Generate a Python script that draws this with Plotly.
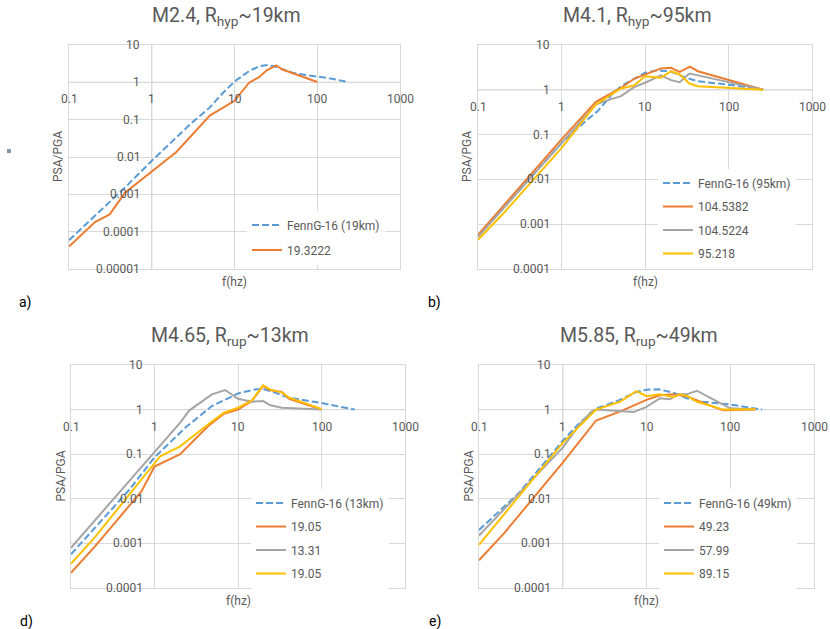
import math
import plotly.graph_objects as go

W, H = 830, 629

# ---------------- data ----------------
X_TICK_VALS = [0.1, 1, 10, 100, 1000]
X_TICK_TEXT = ["0.1", "1", "10", "100", "1000"]
Y_TICK_VALS_A = [10, 1, 0.1, 0.01, 0.001, 0.0001, 0.00001]
Y_TICK_TEXT_A = ["10", "1", "0.1", "0.01", "0.001", "0.0001", "0.00001"]
Y_TICK_VALS_B = [10, 1, 0.1, 0.01, 0.001, 0.0001]
Y_TICK_TEXT_B = ["10", "1", "0.1", "0.01", "0.001", "0.0001"]

# panel a) M2.4, Rhyp~19km
A_FENN_F = [0.1, 0.2, 0.3, 0.5, 1, 2, 3, 5, 7, 10, 15, 20, 25, 30, 40, 50, 70, 100, 150, 230]
A_FENN_Y = [5.9e-5, 2.5e-4, 5.9e-4, 1.7e-3, 7.9e-3, 0.034, 0.08, 0.21, 0.48, 1.05, 2.0, 2.7, 2.9, 2.7, 2.2, 1.8, 1.6, 1.42, 1.25, 1.03]
A_OBS1_F = [0.1, 0.206, 0.31, 0.475, 2, 5.06, 7.3, 10, 15, 20, 24.5, 32, 38, 100]
A_OBS1_Y = [4.0e-5, 1.8e-4, 2.9e-4, 1.1e-3, 0.0139, 0.13, 0.21, 0.32, 0.98, 1.4, 2.1, 2.85, 2.2, 1.02]

# panel b) M4.1, Rhyp~95km
B_FENN_F = [0.1, 0.2, 0.5, 1, 2, 2.7, 4, 5.15, 7.4, 10, 14, 20, 30, 43, 100, 260]
B_FENN_Y = [5.5e-4, 2.3e-3, 0.015, 0.065, 0.21, 0.33, 0.78, 1.2, 1.76, 2.4, 2.7, 2.6, 1.9, 1.55, 1.3, 1.02]
B_OBS1_F = [0.1, 0.2, 0.5, 1, 2.58, 5.15, 7.4, 10, 15.5, 20.5, 26, 34.6, 43, 260]
B_OBS1_Y = [5.8e-4, 2.5e-3, 0.018, 0.078, 0.54, 1.1, 1.76, 2.2, 3.0, 3.1, 2.5, 3.3, 2.6, 1.0]
B_OBS2_F = [0.1, 0.2, 0.5, 1, 2.58, 3.3, 5.15, 7.4, 10, 15.5, 20.5, 26, 34, 43, 260]
B_OBS2_Y = [5.2e-4, 2.2e-3, 0.015, 0.065, 0.47, 0.56, 0.72, 1.15, 1.44, 2.1, 1.64, 1.48, 2.3, 2.1, 1.0]
B_OBS3_F = [0.1, 0.205, 1, 2.58, 5.15, 7.4, 10, 15.5, 20.5, 26, 34, 43, 260]
B_OBS3_Y = [4.5e-4, 1.8e-3, 0.05, 0.47, 1.07, 1.25, 2.0, 1.86, 2.6, 2.2, 1.38, 1.2, 1.0]

# panel d) M4.65, Rrup~13km
D_FENN_F = [0.1, 0.5, 1, 2.33, 4.86, 7.7, 10, 16, 20, 27.7, 40, 100, 250]
D_FENN_Y = [5.7e-4, 0.016, 0.085, 0.39, 1.2, 1.86, 2.3, 2.84, 2.9, 2.4, 1.86, 1.4, 1.0]
D_OBS1_F = [0.1, 0.195, 0.7, 1, 2.03, 4.4, 6.8, 10, 14.6, 20, 24.5, 33.5, 41, 100]
D_OBS1_Y = [2.2e-4, 8.7e-4, 0.0148, 0.053, 0.1, 0.43, 0.81, 1.0, 1.55, 3.4, 2.7, 2.5, 1.75, 1.0]
D_OBS2_F = [0.1, 1, 2.03, 2.6, 4.86, 7.0, 10, 14.6, 20, 24.5, 33.5, 100]
D_OBS2_Y = [8e-4, 0.107, 0.51, 0.95, 2.2, 2.75, 1.75, 1.5, 1.55, 1.25, 1.1, 1.0]
D_OBS3_F = [0.1, 0.195, 0.65, 1.17, 2.03, 4.4, 6.8, 10, 14.6, 20, 24.5, 33.5, 41, 100]
D_OBS3_Y = [3.5e-4, 1.4e-3, 0.023, 0.09, 0.15, 0.47, 0.85, 1.1, 1.6, 3.5, 2.8, 2.4, 1.85, 1.03]

# panel e) M5.85, Rrup~49km
E_FENN_F = [0.1, 0.3, 0.5, 1, 1.5, 2.5, 4.8, 7.6, 10, 14, 21, 30, 47, 100, 240]
E_FENN_Y = [2.0e-3, 0.0135, 0.042, 0.2, 0.45, 1.05, 1.65, 2.5, 2.8, 2.85, 2.4, 1.8, 1.5, 1.3, 1.0]
E_OBS1_F = [0.1, 0.2, 1, 1.2, 2.5, 4.8, 10, 14.5, 21, 30, 40, 63, 83, 200]
E_OBS1_Y = [4.2e-4, 1.7e-3, 0.065, 0.1, 0.57, 0.9, 1.65, 2.1, 2.2, 2.0, 1.6, 1.15, 0.97, 1.0]
E_OBS2_F = [0.1, 1, 1.6, 2.2, 2.5, 4.8, 7, 10, 14.5, 19, 24, 30, 40, 57, 100, 200]
E_OBS2_Y = [1.5e-3, 0.14, 0.47, 0.9, 1.0, 0.9, 0.88, 1.15, 1.8, 1.7, 2.2, 2.2, 2.65, 1.85, 1.07, 1.0]
E_OBS3_F = [0.1, 1, 2.5, 4.8, 7.6, 10, 14.5, 21, 25, 31, 40, 83, 200]
E_OBS3_Y = [9.3e-4, 0.18, 1.0, 1.5, 2.6, 2.0, 2.2, 1.9, 2.2, 2.0, 1.5, 1.0, 1.02]

# ---------------- styling ----------------
BLUE, ORANGE, GRAY, YELLOW = "#5B9BD5", "#ED7D31", "#A5A5A5", "#FFC000"
TXT = "#595959"
GRID = "#d9d9d9"
AXLINE = "#bfbfbf"
FONT = "Roboto"

panels = [
    dict(title="M2.4, R<sub>hyp</sub>~19km", label="a)", xr=[-1, 3], yr=[-5, 1],
         px=(69, 400), py=(45, 269), yt=(Y_TICK_VALS_A, Y_TICK_TEXT_A),
         leg=(247, 210.5), gap=6, lab_xy=(25, 302),
         series=[("FennG-16 (19km)", A_FENN_F, A_FENN_Y, BLUE, True),
                 ("19.3222", A_OBS1_F, A_OBS1_Y, ORANGE, False)]),
    dict(title="M4.1, R<sub>hyp</sub>~95km", label="b)", xr=[-1, 3], yr=[-4, 1],
         px=(478, 812), py=(45, 269), yt=(Y_TICK_VALS_B, Y_TICK_TEXT_B),
         leg=(658, 168.5), gap=4.5, lab_xy=(434, 302),
         series=[("FennG-16 (95km)", B_FENN_F, B_FENN_Y, BLUE, True),
                 ("104.5382", B_OBS1_F, B_OBS1_Y, ORANGE, False),
                 ("104.5224", B_OBS2_F, B_OBS2_Y, GRAY, False),
                 ("95.218", B_OBS3_F, B_OBS3_Y, YELLOW, False)]),
    dict(title="M4.65, R<sub>rup</sub>~13km", label="d)", xr=[-1, 3], yr=[-4, 1],
         px=(71, 405), py=(365, 588), yt=(Y_TICK_VALS_B, Y_TICK_TEXT_B),
         leg=(251, 488.5), gap=4.5, lab_xy=(26, 621),
         series=[("FennG-16 (13km)", D_FENN_F, D_FENN_Y, BLUE, True),
                 ("19.05", D_OBS1_F, D_OBS1_Y, ORANGE, False),
                 ("13.31", D_OBS2_F, D_OBS2_Y, GRAY, False),
                 ("19.05", D_OBS3_F, D_OBS3_Y, YELLOW, False)]),
    dict(title="M5.85, R<sub>rup</sub>~49km", label="e)", xr=[-1, 3], yr=[-4, 1],
         px=(479, 814), py=(365, 588), yt=(Y_TICK_VALS_B, Y_TICK_TEXT_B),
         leg=(659, 488.5), gap=4.5, lab_xy=(435, 621),
         series=[("FennG-16 (49km)", E_FENN_F, E_FENN_Y, BLUE, True),
                 ("49.23", E_OBS1_F, E_OBS1_Y, ORANGE, False),
                 ("57.99", E_OBS2_F, E_OBS2_Y, GRAY, False),
                 ("89.15", E_OBS3_F, E_OBS3_Y, YELLOW, False)]),
]


def frac(v, rng):
    return (math.log10(v) - rng[0]) / (rng[1] - rng[0])


fig = go.Figure()
layout = dict(width=W, height=H, margin=dict(l=0, r=0, t=0, b=0),
              paper_bgcolor="white", plot_bgcolor="white",
              font=dict(family=FONT, color=TXT, size=12),
              showlegend=True)
annotations = []
shapes = []

for i, p in enumerate(panels):
    n = i + 1
    xs = "" if n == 1 else str(n)
    xname, yname = "x" + xs, "y" + xs
    legname = "legend" + ("" if n == 1 else str(n))
    dom_x = [p["px"][0] / W, p["px"][1] / W]
    dom_y = [1 - p["py"][1] / H, 1 - p["py"][0] / H]
    common = dict(type="log", dtick=1, showgrid=True, gridcolor=GRID, gridwidth=1,
                  showticklabels=False, ticks="", showline=True, mirror=True,
                  linecolor=GRID, linewidth=1, fixedrange=True)
    layout["xaxis" + xs] = dict(common, range=p["xr"], domain=dom_x, anchor=yname)
    layout["yaxis" + xs] = dict(common, range=p["yr"], domain=dom_y, anchor=xname)
    layout[legname] = dict(x=p["leg"][0] / W, y=1 - p["leg"][1] / H, xanchor="left", yanchor="top",
                           bgcolor="white", borderwidth=0, traceorder="grouped",
                           tracegroupgap=p["gap"], font=dict(family=FONT, size=12, color=TXT))

    for k, (name, fx, fy, col, dashed) in enumerate(p["series"]):
        fig.add_trace(go.Scatter(
            x=fx, y=fy, mode="lines", name=name, xaxis=xname, yaxis=yname,
            legend=legname, legendgroup=f"p{n}s{k}",
            line=dict(color=col, width=2, dash="7px,3px" if dashed else "solid"),
            hoverinfo="skip"))

    xd, yd = xname + " domain", yname + " domain"
    fx1 = frac(1, p["xr"])
    fy1 = frac(1, p["yr"])
    # axis lines crossing at 1
    shapes.append(dict(type="line", xref=xd, yref=yd, x0=0, x1=1, y0=fy1, y1=fy1,
                       line=dict(color=AXLINE, width=1), layer="below"))
    shapes.append(dict(type="line", xref=xd, yref=yd, x0=fx1, x1=fx1, y0=0, y1=1,
                       line=dict(color=AXLINE, width=1), layer="below"))
    # x tick labels along y=1
    for v, t in zip(X_TICK_VALS, X_TICK_TEXT):
        annotations.append(dict(text=t, xref=xd, yref=yd, x=frac(v, p["xr"]), y=fy1,
                                xanchor="center", yanchor="middle", yshift=-17,
                                showarrow=False, font=dict(size=12, color=TXT, family=FONT)))
    # y tick labels along x=1
    for v, t in zip(*p["yt"]):
        annotations.append(dict(text=t, xref=xd, yref=yd, x=fx1, y=frac(v, p["yr"]),
                                xanchor="right", yanchor="middle", xshift=-10,
                                showarrow=False, font=dict(size=12, color=TXT, family=FONT)))
    # axis titles
    annotations.append(dict(text="PSA/PGA", xref=xd, yref=yd, x=0, y=0.5, textangle=-90,
                            xanchor="center", yanchor="middle", xshift=-11,
                            showarrow=False, font=dict(size=12, color=TXT, family=FONT)))
    annotations.append(dict(text="f(hz)", xref=xd, yref=yd, x=0.5, y=0,
                            xanchor="center", yanchor="middle", yshift=-13,
                            showarrow=False, font=dict(size=12, color=TXT, family=FONT)))
    # panel title
    annotations.append(dict(text=p["title"], xref=xd, yref=yd, x=0.5, y=1,
                            xanchor="center", yanchor="middle", xshift=-8, yshift=29,
                            showarrow=False, font=dict(size=19.5, color=TXT, family=FONT)))
    # panel label
    annotations.append(dict(text=p["label"], xref="paper", yref="paper",
                            x=p["lab_xy"][0] / W, y=1 - p["lab_xy"][1] / H,
                            xanchor="center", yanchor="middle", showarrow=False,
                            font=dict(size=14, color="black", family=FONT)))

# small grey marker at left edge of panel a
shapes.append(dict(type="rect", xref="paper", yref="paper", x0=7 / W, x1=11 / W,
                   y0=1 - 153 / H, y1=1 - 149 / H, line=dict(width=0), fillcolor="#8497A8"))

layout["annotations"] = annotations
layout["shapes"] = shapes
fig.update_layout(**layout)
fig.write_html("out.html", config={"displayModeBar": False},
               post_script="document.body.style.margin='0px';document.body.style.padding='0px';")
